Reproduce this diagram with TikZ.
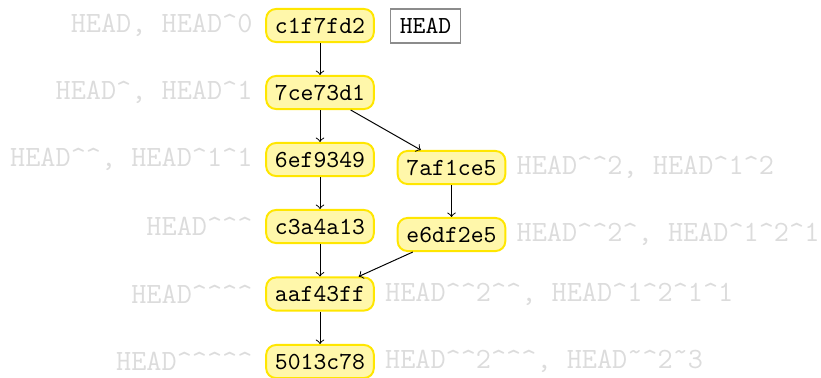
\documentclass[tikz,border=0pt]{standalone}
\usetikzlibrary{positioning}
\definecolor{commitfill}{HTML}{FFF7AA}
\definecolor{commitdraw}{HTML}{FFE600}
\definecolor{refgray}{HTML}{DCDCDC}
\definecolor{boxgray}{HTML}{8C8C8C}
\newcommand{\upcaret}{\string^}
\newcommand{\uptilde}{\char"02DC\relax}
\tikzset{
  commit/.style={draw=commitdraw, fill=commitfill, line width=0.8pt,
    rounded corners=4pt, font=\ttfamily, inner xsep=3.6pt,
    minimum height=13.5pt, text height=6.2pt, text depth=0pt},
  refbox/.style={draw=boxgray, fill=white, line width=0.5pt, font=\ttfamily,
    inner xsep=3.8pt, minimum height=13.8pt, text height=6.2pt, text depth=0pt},
  rev/.style={text=refgray, font=\ttfamily\large, inner sep=2pt},
  parent/.style={->, line width=0.4pt},
}
\begin{document}
\begin{tikzpicture}[x=0.4082pt, y=-0.4082pt]
  \useasboundingbox (0,0) rectangle (821,377);

  % commits
  \node[commit] (c1) at (320,25.5)  {c1f7fd2};
  \node[commit] (c2) at (320,92.5)  {7ce73d1};
  \node[commit] (c3) at (320,159.5) {6ef9349};
  \node[commit] (c4) at (451.5,167.5) {7af1ce5};
  \node[commit] (c5) at (320,226.5) {c3a4a13};
  \node[commit] (c6) at (451.5,234.5) {e6df2e5};
  \node[commit] (c7) at (320,294)   {aaf43ff};
  \node[commit] (c8) at (320,361.5) {5013c78};

  % the HEAD reference
  \node[refbox] (head) at (425.5,26) {HEAD};

  % revision expressions
  \node[rev, left=3pt of c1]  (r1) {HEAD, HEAD\upcaret0};
  \node[rev, left=3pt of c2]  (r2) {HEAD\upcaret, HEAD\upcaret1};
  \node[rev, left=3pt of c3]  (r3) {HEAD\upcaret\upcaret, HEAD\upcaret1\upcaret1};
  \node[rev, right=2pt of c4] (r4) {HEAD\upcaret\upcaret2, HEAD\upcaret1\upcaret2};
  \node[rev, left=3pt of c5]  (r5) {HEAD\upcaret\upcaret\upcaret};
  \node[rev, right=2pt of c6] (r6) {HEAD\upcaret\upcaret2\upcaret, HEAD\upcaret1\upcaret2\upcaret1};
  \node[rev, left=3pt of c7]  (r7) {HEAD\upcaret\upcaret\upcaret\upcaret};
  \node[rev, right=2pt of c7] (r8) {HEAD\upcaret\upcaret2\upcaret\upcaret, HEAD\upcaret1\upcaret2\upcaret1\upcaret1};
  \node[rev, left=3pt of c8]  (r9) {HEAD\upcaret\upcaret\upcaret\upcaret\upcaret};
  \node[rev, right=2pt of c8] (r10) {HEAD\upcaret\upcaret2\upcaret\upcaret\upcaret, HEAD\uptilde\upcaret2\uptilde3};

  % parent links
  \draw[parent] (c1) -- (c2);
  \draw[parent] (c2) -- (c3);
  \draw[parent] (c2) -- (c4);
  \draw[parent] (c3) -- (c5);
  \draw[parent] (c4) -- (c6);
  \draw[parent] (c5) -- (c7);
  \draw[parent] (c6) -- (c7);
  \draw[parent] (c7) -- (c8);
\end{tikzpicture}
\end{document}
